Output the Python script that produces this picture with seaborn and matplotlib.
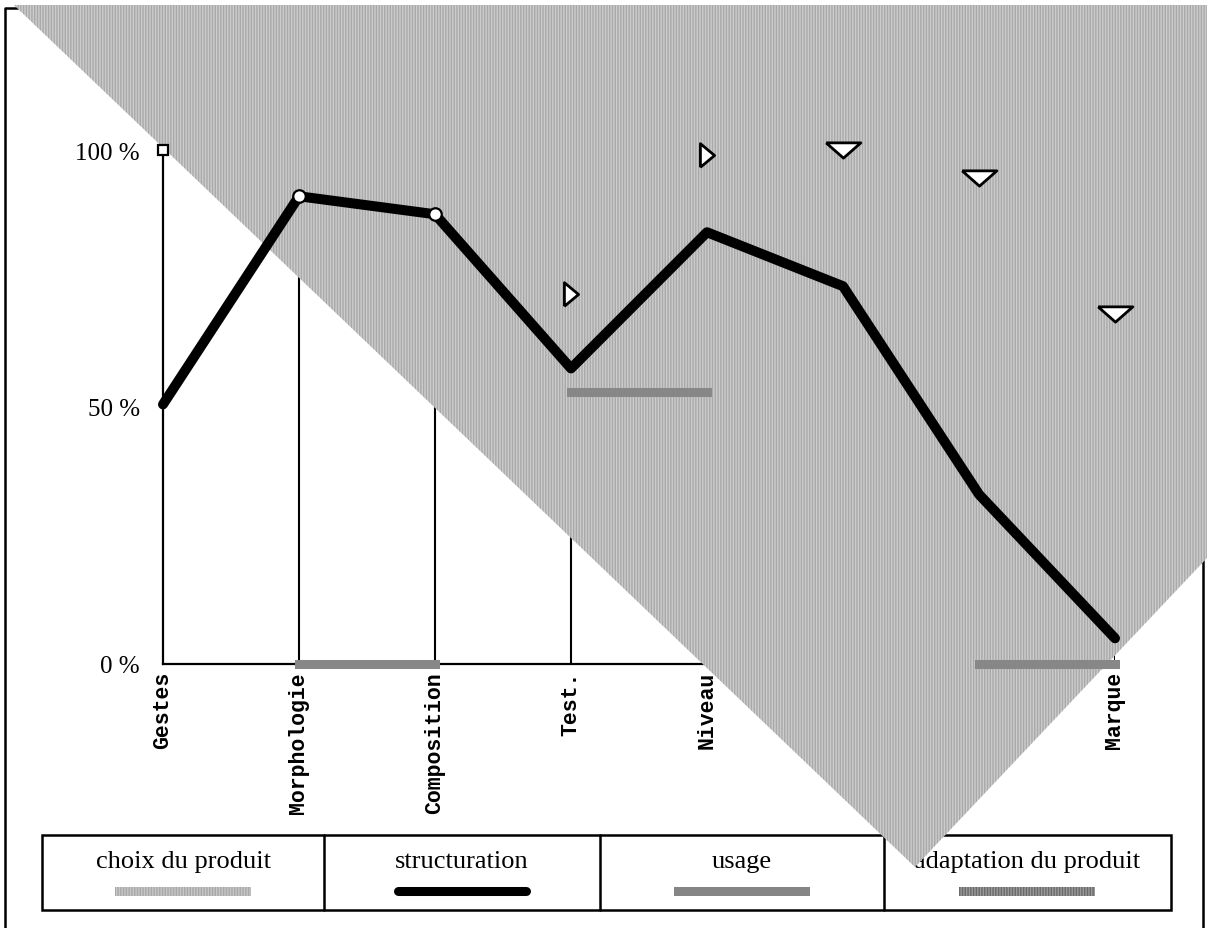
import matplotlib
matplotlib.use("Agg")
import matplotlib.pyplot as plt
from matplotlib.patches import Polygon, Rectangle
from matplotlib.lines import Line2D
from matplotlib.ticker import MultipleLocator, FixedLocator
import seaborn as sns

# ---- data -------------------------------------------------------------
categories = ["Gestes", "Morphologie", "Composition", "Test.", "Niveau", "", "", "Marque"]
structuration = [50.5, 91, 87.5, 57.5, 84, 73.5, 33, 5]

square_idx, square_val = [0], [100]
circle_idx = [1, 2]
circle_val = [91, 87.5]
right_tri_idx, right_tri_val = [3, 4], [72, 99]
down_tri_idx, down_tri_val = [5, 6, 7], [100, 94.5, 68]

usage_segments = [(1, 2, 0), (3, 4, 53), (6, 7, 0)]

legend_labels = ["choix du produit", "structuration", "usage", "adaptation du produit"]
ytick_vals = [0, 50, 100]
ytick_labels = ["0 %", "50 %", "100 %"]

# ---- style ------------------------------------------------------------
sns.set_style("white")
plt.rcParams["font.family"] = ["Liberation Serif", "DejaVu Serif"]
plt.rcParams["hatch.linewidth"] = 1.0
plt.rcParams["text.color"] = "black"
plt.rcParams["xtick.color"] = "black"
plt.rcParams["ytick.color"] = "black"

W, H = 1207, 929
fig = plt.figure(figsize=(W / 100, H / 100), dpi=100)
fig.patch.set_facecolor("white")


def fxy(px, py):
    return (px / W, 1 - py / H)


ax = fig.add_axes([163 / W, 1 - 665 / H, (1115 - 163) / W, (665 - 151) / H])
ax.set_xlim(0, 7)
ax.set_ylim(0, 100)
ax.set_facecolor("none")

for s in ("top", "right"):
    ax.spines[s].set_visible(False)
for s in ("left", "bottom"):
    ax.spines[s].set_linewidth(1.6)
    ax.spines[s].set_color("black")

xpos = list(range(len(categories)))
ax.set_xticks(xpos)
ax.set_xticklabels(categories, rotation=90, va="top", ha="center",
                   family=["Liberation Mono", "DejaVu Sans Mono"], weight="bold",
                   fontsize=15.5, color="black")
ax.tick_params(axis="x", length=0, pad=5)

ax.yaxis.set_major_locator(FixedLocator(ytick_vals))
ax.set_yticklabels(ytick_labels, fontsize=18, color="black")
ax.yaxis.set_minor_locator(MultipleLocator(10))
ax.tick_params(axis="y", which="both", direction="inout", length=13, width=1.5, pad=10,
               color="black")

# category guide lines
ax.vlines(xpos[1:], 0, 100, colors="black", linewidth=1.5, zorder=1)

# outer frame
frame = [fxy(5, 945), fxy(5, 9), fxy(1203, 9), fxy(1203, 945)]
ax.add_line(Line2D([p[0] for p in frame], [p[1] for p in frame], transform=fig.transFigure,
                   color="black", linewidth=1.8, clip_on=False, zorder=1))

# hatched grey wedge over the upper part of the figure
wedge = [fxy(14, 6), fxy(1240, 6), fxy(1240, 524), fxy(915, 868)]
ax.add_patch(Polygon(wedge, closed=True, transform=fig.transFigure, clip_on=False,
                     facecolor="#cccccc", edgecolor="#a9a9a9", hatch="||||||",
                     linewidth=0, zorder=3))

# usage segments
for x0, x1, yv in usage_segments:
    ax.plot([x0, x1], [yv, yv], color="#878787", linewidth=6.5,
            solid_capstyle="projecting", zorder=4, clip_on=False)

# structuration line
sns.lineplot(x=xpos, y=structuration, ax=ax, color="black", linewidth=7.2,
             solid_joinstyle="round", solid_capstyle="round", zorder=5, clip_on=False)

# point markers
ax.plot(square_idx, square_val, linestyle="none", marker="s", markersize=7.5,
        markerfacecolor="white", markeredgecolor="black", markeredgewidth=1.6,
        zorder=6, clip_on=False)
ax.plot(circle_idx, circle_val, linestyle="none", marker="o", markersize=9,
        markerfacecolor="white", markeredgecolor="black", markeredgewidth=1.6,
        zorder=6, clip_on=False)
right_tri = [(-0.3, -0.5), (-0.3, 0.5), (0.3, 0.0), (-0.3, -0.5)]
ax.plot(right_tri_idx, right_tri_val, linestyle="none", marker=right_tri, markersize=17,
        markerfacecolor="white", markeredgecolor="black", markeredgewidth=2,
        zorder=6, clip_on=False)
down_tri = [(-0.5, 0.22), (0.5, 0.22), (0.0, -0.22), (-0.5, 0.22)]
ax.plot(down_tri_idx, down_tri_val, linestyle="none", marker=down_tri, markersize=25,
        markerfacecolor="white", markeredgecolor="black", markeredgewidth=2,
        zorder=6, clip_on=False)

# legend table
lx0, lx1, ly0, ly1 = 42, 1171, 836, 911
dividers = [42, 324, 600, 884, 1171]
ax.add_patch(Rectangle(fxy(lx0, ly1), (lx1 - lx0) / W, (ly1 - ly0) / H,
                       transform=fig.transFigure, clip_on=False, facecolor="white",
                       edgecolor="black", linewidth=1.8, zorder=2))
for d in dividers[1:-1]:
    ax.add_line(Line2D([d / W, d / W], [1 - ly0 / H, 1 - ly1 / H], transform=fig.transFigure,
                       color="black", linewidth=1.8, clip_on=False, zorder=2))

text_y, swatch_y, half = 862, 892, 68
for i, lab in enumerate(legend_labels):
    cx = (dividers[i] + dividers[i + 1]) / 2
    ax.text(*fxy(cx, text_y), lab, transform=fig.transFigure, ha="center", va="center",
            fontsize=19, color="black", zorder=2.5, clip_on=False)
    if i == 1:
        ax.add_line(Line2D([(cx - half + 4) / W, (cx + half - 4) / W], [1 - swatch_y / H] * 2,
                           transform=fig.transFigure, color="black", linewidth=6.5,
                           solid_capstyle="round", clip_on=False, zorder=2.5))
    else:
        face, edge, hatch = {0: ("#c6c6c6", "#a8a8a8", "||||||"),
                             2: ("#858585", "#858585", None),
                             3: ("#9a9a9a", "#6a6a6a", "||||||")}[i]
        ax.add_patch(Rectangle(fxy(cx - half, swatch_y + 4.5), 2 * half / W, 9 / H,
                               transform=fig.transFigure, clip_on=False, facecolor=face,
                               edgecolor=edge, hatch=hatch, linewidth=0, zorder=2.5))

fig.savefig("out.png", dpi=100)
